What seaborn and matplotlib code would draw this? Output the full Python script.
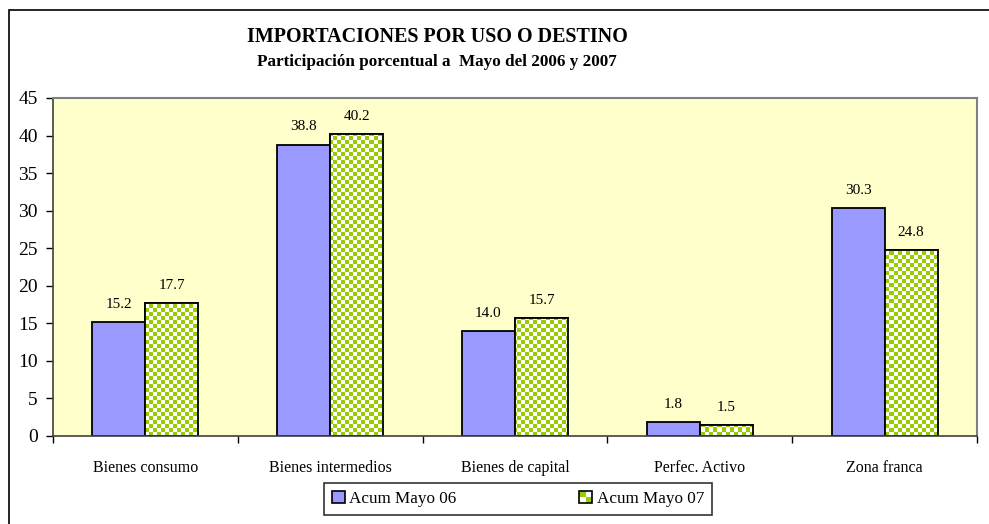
import numpy as np
import pandas as pd
import matplotlib
matplotlib.use("Agg")
import matplotlib.pyplot as plt
import seaborn as sns
from matplotlib.patches import Rectangle
from matplotlib.legend_handler import HandlerBase

categories = ["Bienes consumo", "Bienes intermedios", "Bienes de capital", "Perfec. Activo", "Zona franca"]
series_names = ["Acum Mayo 06", "Acum Mayo 07"]
values_06 = [15.2, 38.8, 14.0, 1.8, 30.3]
values_07 = [17.7, 40.2, 15.7, 1.5, 24.8]
y_ticks = [0, 5, 10, 15, 20, 25, 30, 35, 40, 45]

BLUE = "#9999FF"
GREEN = "#99CC00"
BG = "#FFFFCC"

df = pd.DataFrame({
    "cat": categories * 2,
    "serie": [series_names[0]] * 5 + [series_names[1]] * 5,
    "val": values_06 + values_07,
})

sns.set_theme(style="white")
plt.rcParams["font.family"] = ["Liberation Serif", "DejaVu Serif"]
plt.rcParams["text.color"] = "black"
plt.rcParams["xtick.color"] = "black"
plt.rcParams["ytick.color"] = "black"
plt.rcParams["axes.labelcolor"] = "black"

W, H = 989, 524
fig = plt.figure(figsize=(W / 100, H / 100), dpi=100)
fig.patch.set_facecolor("white")
ax = fig.add_axes([53 / W, 1 - 436 / H, (977 - 53) / W, (436 - 98) / H])
ax.set_facecolor(BG)

sns.barplot(data=df, x="cat", y="val", hue="serie", order=categories,
            hue_order=series_names, palette=[BLUE, "white"], width=0.574,
            gap=0, edgecolor="black", linewidth=1.3, saturation=1,
            legend=False, ax=ax)

ax.set_xlim(-0.5, 4.5)
ax.set_ylim(0, 45)
ax.set_yticks(y_ticks)
ax.set_yticklabels([str(t) for t in y_ticks], fontsize=14)
ax.set_xticks(range(5))
ax.set_xticklabels(categories, fontsize=11.5)
ax.set_xticks([-0.5, 0.5, 1.5, 2.5, 3.5, 4.5], minor=True)
ax.tick_params(axis="x", which="major", length=0, pad=17)
ax.tick_params(axis="x", which="minor", length=5, width=1, color="black", direction="out", bottom=True)
ax.tick_params(axis="y", length=5, width=1, color="black", direction="out", left=True, pad=6)
ax.set_xlabel("")
ax.set_ylabel("")

for s in ["top", "right"]:
    ax.spines[s].set_color("#808080")
    ax.spines[s].set_linewidth(1.5)
for s in ["left", "bottom"]:
    ax.spines[s].set_color("#404040")
    ax.spines[s].set_linewidth(1.2)

# checker image for green bars
axw = 977 - 53
axh = 436 - 98
cell = 4
nx, ny = axw // cell + 1, axh // cell + 1
yy, xx = np.mgrid[0:ny, 0:nx]
checker = ((xx + yy) % 2 == 0)
img = np.ones((ny, nx, 3))
g = np.array(matplotlib.colors.to_rgb(GREEN))
img[checker] = g

bars = ax.patches
green_bars = bars[5:10]
blue_bars = bars[0:5]
for b in green_bars:
    im = ax.imshow(img, extent=(-0.5, -0.5 + nx * cell / axw * 5, 0, ny * cell / axh * 45),
                   origin="lower", interpolation="nearest", aspect="auto", zorder=b.get_zorder() + 0.1)
    im.set_clip_path(b)
    ax.add_patch(Rectangle(b.get_xy(), b.get_width(), b.get_height(), fill=False,
                           edgecolor="black", linewidth=1.3, zorder=b.get_zorder() + 0.2))
ax.set_xlim(-0.5, 4.5)
ax.set_ylim(0, 45)

for b in list(blue_bars) + list(green_bars):
    h = b.get_height()
    ax.annotate(f"{h:.1f}", (b.get_x() + b.get_width() / 2, h), xytext=(0, 8),
                textcoords="offset points", ha="center", va="bottom", fontsize=11)


class CheckerHandler(HandlerBase):
    def create_artists(self, legend, orig_handle, xdescent, ydescent, width, height, fontsize, trans):
        x0, y0 = -xdescent, -ydescent
        arts = [Rectangle((x0, y0), width, height, facecolor="white", edgecolor="none", transform=trans)]
        arts.append(Rectangle((x0, y0 + height / 2), width / 2, height / 2, facecolor=GREEN, edgecolor="none", transform=trans))
        arts.append(Rectangle((x0 + width / 2, y0), width / 2, height / 2, facecolor=GREEN, edgecolor="none", transform=trans))
        arts.append(Rectangle((x0, y0), width, height, fill=False, edgecolor="black", linewidth=1.2, transform=trans))
        return arts


class SolidHandler(HandlerBase):
    def create_artists(self, legend, orig_handle, xdescent, ydescent, width, height, fontsize, trans):
        return [Rectangle((-xdescent, -ydescent), width, height, facecolor=BLUE,
                          edgecolor="black", linewidth=1.2, transform=trans)]


h1 = Rectangle((0, 0), 1, 1)
h2 = Rectangle((0, 0), 1, 1, label="b")
leg = fig.legend([h1, h2], series_names, loc="center", bbox_to_anchor=(518 / W, 1 - 499 / H),
                 ncol=2, fontsize=12.3, frameon=True, fancybox=False, edgecolor="black",
                 handlelength=0.75, handleheight=0.75, handletextpad=0.25, columnspacing=7.2,
                 borderpad=0.45, handler_map={h1: SolidHandler(), h2: CheckerHandler()})
leg.get_frame().set_linewidth(1.2)

fig.text(437 / W, 1 - 37 / H, "IMPORTACIONES POR USO O DESTINO", ha="center", va="center",
         fontsize=14.4, fontweight="bold")
fig.text(437 / W, 1 - 62 / H, "Participación porcentual a  Mayo del 2006 y 2007", ha="center",
         va="center", fontsize=12.3, fontweight="bold")

fig.patches.append(Rectangle((8.5 / W, -0.1), 1.2, 1 - 9.5 / H + 0.1, transform=fig.transFigure,
                             fill=False, edgecolor="black", linewidth=1.2))

fig.savefig("out.png", dpi=100)
